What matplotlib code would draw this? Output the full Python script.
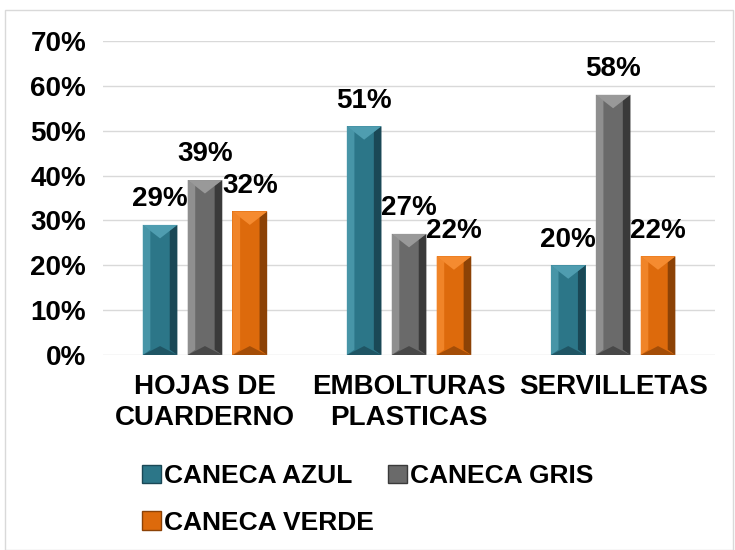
import numpy as np
import matplotlib.pyplot as plt
from matplotlib.patches import Rectangle, Polygon, Patch

plt.rcParams['font.family'] = ['Liberation Sans', 'DejaVu Sans']
plt.rcParams['font.weight'] = 'bold'

# datos
categorias = ['HOJAS DE\nCUARDERNO', 'EMBOLTURAS\nPLASTICAS', 'SERVILLETAS']
series = ['CANECA AZUL', 'CANECA GRIS', 'CANECA VERDE']
azul = [0.29, 0.51, 0.20]
gris = [0.39, 0.27, 0.58]
verde = [0.32, 0.22, 0.22]
etiquetas_y = ['0%', '10%', '20%', '30%', '40%', '50%', '60%', '70%']

colores = ['#2c7688', '#6a6a6a', '#dd6a0c']
oscuros = ['#1a4856', '#3a3a3a', '#8c4206']
claros = ['#4f9db0', '#999999', '#f58b30']

fig = plt.figure(figsize=(7.35, 5.5), dpi=100)
fig.patches.append(Rectangle((0.007, 0.0), 0.99, 0.982, transform=fig.transFigure,
                             fill=False, edgecolor='#d9d9d9', linewidth=1))
ax = fig.add_axes([0.140, 0.3545, 0.833, 0.571])

x = np.arange(len(categorias))
ancho = 0.17
paso = 0.22
valores = [azul, gris, verde]

for i, vals in enumerate(valores):
    pos = x + (i - 1) * paso
    barras = ax.bar(pos, vals, ancho, color=colores[i], zorder=3, edgecolor='none')
    for b, v in zip(barras, vals):
        x0, w, h = b.get_x(), b.get_width(), b.get_height()
        d = w * 0.22
        dy = 0.012
        # efecto bisel
        ax.add_patch(Polygon([(x0 + w - d, dy), (x0 + w, 0), (x0 + w, h), (x0 + w - d, h - dy)],
                             closed=True, color=oscuros[i], zorder=4, lw=0))
        ax.add_patch(Polygon([(x0, 0), (x0 + d, dy), (x0 + d, h - dy), (x0, h)],
                             closed=True, color=claros[i], zorder=4, lw=0, alpha=0.8))
        ax.add_patch(Polygon([(x0, h), (x0 + w, h), (x0 + w / 2, h - 0.03)],
                             closed=True, color=claros[i], zorder=4, lw=0))
        ax.add_patch(Polygon([(x0, 0), (x0 + w, 0), (x0 + w / 2, 0.02)],
                             closed=True, color=oscuros[i], zorder=4, lw=0, alpha=0.7))
        ax.text(b.get_x() + w / 2, h + 0.028, f'{v * 100:.0f}%', ha='center', va='bottom',
                fontsize=20, fontweight='bold', zorder=5)

ax.set_xlim(-0.5, 2.5)
ax.set_ylim(0, 0.7)
ax.set_yticks(np.arange(0, 0.71, 0.1))
ax.set_yticklabels(etiquetas_y, fontsize=20, fontweight='bold')
ax.set_xticks(x)
ax.set_xticklabels(categorias, fontsize=20, fontweight='bold', linespacing=1.25)
ax.tick_params(length=0, pad=12)
ax.tick_params(axis='x', pad=14)
ax.grid(axis='y', color='#d9d9d9', linewidth=1, zorder=0)
for s in ax.spines.values():
    s.set_visible(False)

# orden por filas: azul, gris / verde
orden = [0, 2, 1]
handles = [Patch(facecolor=colores[i], edgecolor=oscuros[i], label=series[i]) for i in orden]
fig.legend(handles=handles, loc='upper left', bbox_to_anchor=(0.179, 0.175), ncol=2,
           frameon=False, prop={'size': 19, 'weight': 'bold'}, handlelength=0.7,
           handleheight=0.7, handletextpad=0.12, columnspacing=0.55, labelspacing=0.85,
           borderaxespad=0)

fig.savefig('out.png', dpi=100)
